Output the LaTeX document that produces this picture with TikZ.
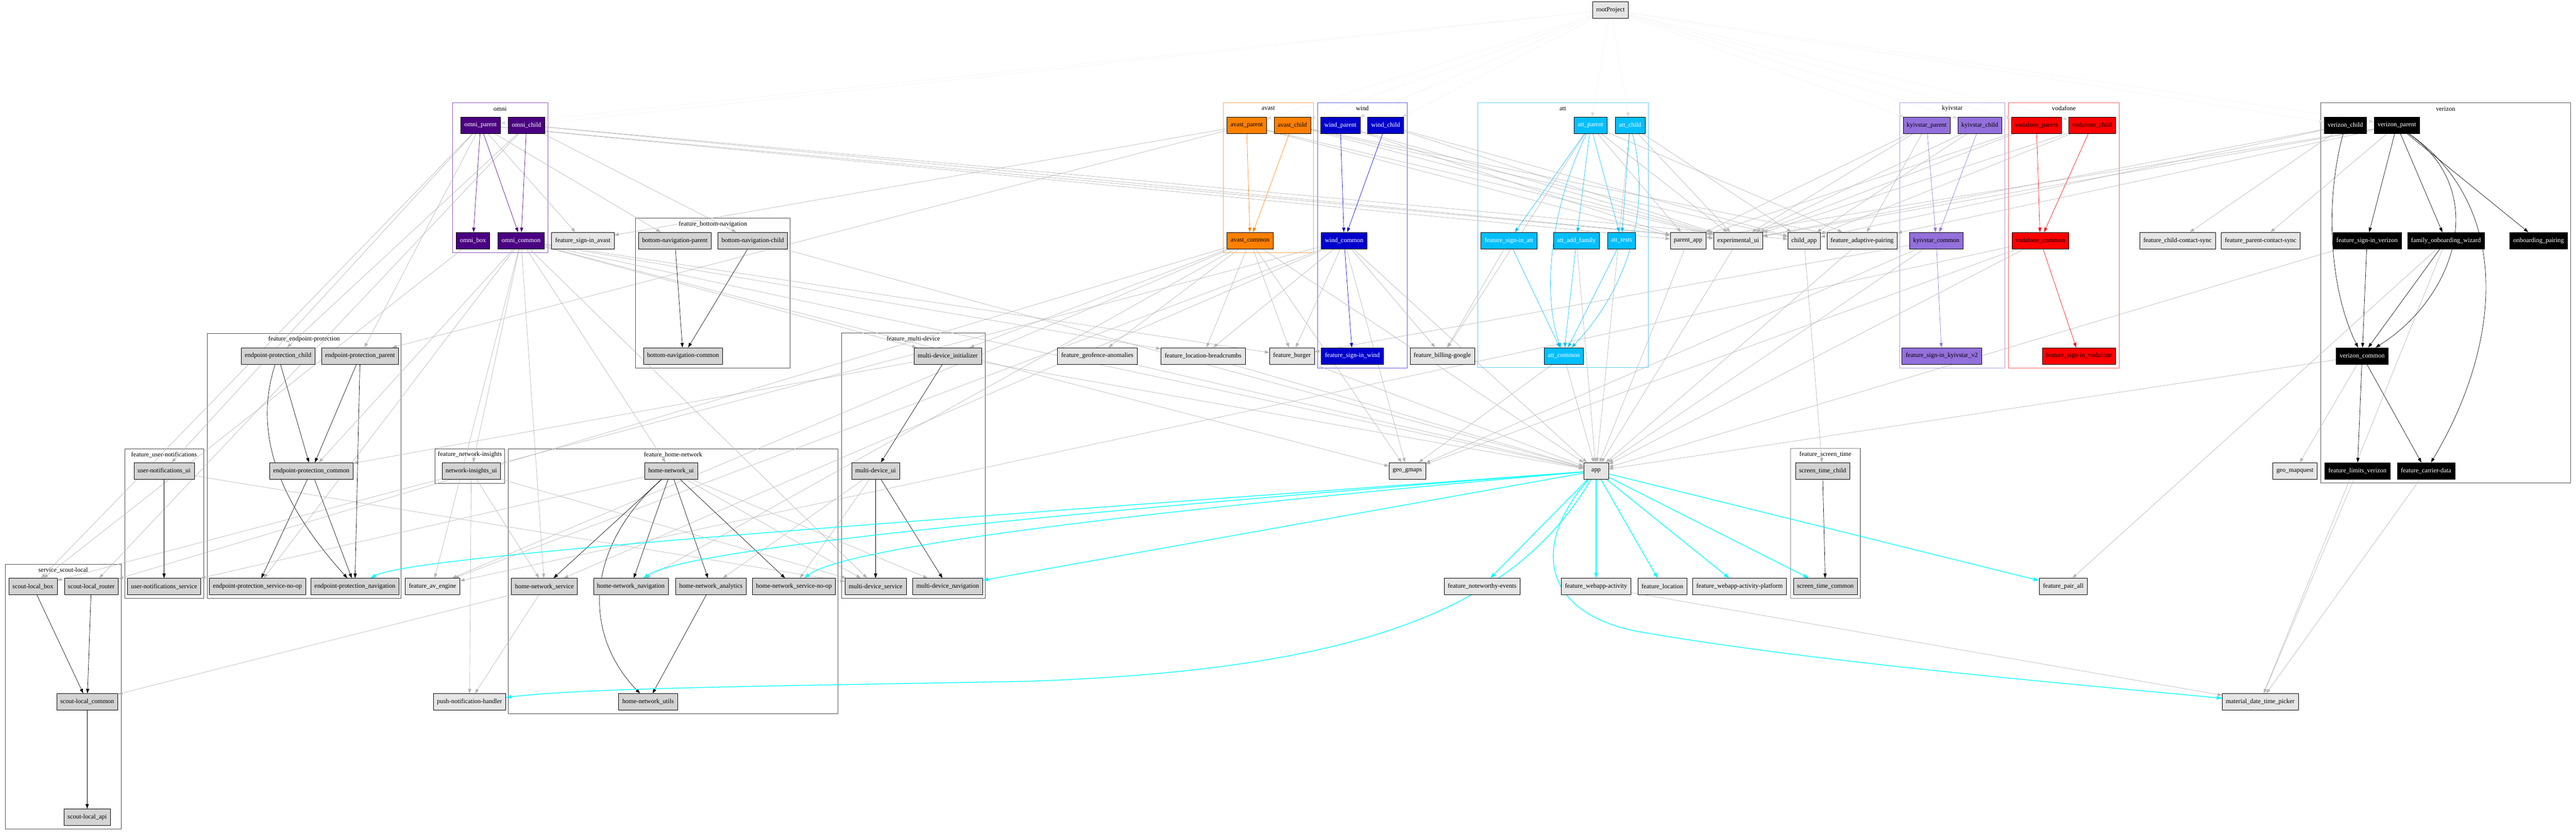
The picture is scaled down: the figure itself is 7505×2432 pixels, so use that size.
\documentclass[tikz,border=0pt]{standalone}
\usepackage{fontspec}
\setmainfont{Liberation Serif}
\usetikzlibrary{arrows.meta,backgrounds}

\definecolor{omniFill}{HTML}{4B0082}
\definecolor{omniFrame}{HTML}{8B58B9}
\definecolor{avastFill}{HTML}{FF8000}
\definecolor{avastFrame}{HTML}{FFA64D}
\definecolor{windFill}{HTML}{0000CD}
\definecolor{windFrame}{HTML}{5A5ADC}
\definecolor{attFill}{HTML}{00BFFF}
\definecolor{attFrame}{HTML}{5CCBF5}
\definecolor{kyivFill}{HTML}{9370DB}
\definecolor{kyivFrame}{HTML}{B09DE6}
\definecolor{vodaFill}{HTML}{FF0000}
\definecolor{vodaFrame}{HTML}{FF5A5A}
\definecolor{verizonFrame}{HTML}{555555}
\definecolor{featFill}{HTML}{D3D3D3}
\definecolor{loneFill}{HTML}{E5E5E5}
\definecolor{featFrame}{HTML}{4D4D4D}
\definecolor{screenFrame}{HTML}{8C8C8C}
\definecolor{depGray}{HTML}{B3B3B3}
\definecolor{rootGray}{HTML}{D9D9D9}
\definecolor{appCyan}{HTML}{00FFFF}

\begin{document}
\begin{tikzpicture}[x=0.75pt,y=0.75pt,yscale=-1,xscale=1,
    modBox/.style={draw=black, line width=0.6pt, minimum height=36pt, minimum width=54pt, inner xsep=8pt, inner ysep=0pt, font=\fontsize{14}{16}\selectfont},
    lone/.style={modBox, fill=loneFill},
    feat/.style={modBox, fill=featFill},
    omniMod/.style={modBox, fill=omniFill, text=white},
    avastMod/.style={modBox, fill=avastFill},
    windMod/.style={modBox, fill=windFill, text=white},
    attMod/.style={modBox, fill=attFill, text=white},
    kyivMod/.style={modBox, fill=kyivFill},
    vodaMod/.style={modBox, fill=vodaFill},
    verizonMod/.style={modBox, fill=black, text=white},
    clusterBox/.style={line width=1.2pt},
    clusterTitle/.style={font=\fontsize{14}{16}\selectfont, inner sep=0pt},
    depTip/.style={-{Triangle[length=10pt,width=7pt]}},
    dep/.style={draw=depGray, line width=0.75pt, depTip},
    rootDep/.style={draw=rootGray, line width=0.75pt, dotted, depTip},
    ownDep/.style={line width=0.75pt, depTip},
    appDep/.style={draw=appCyan, line width=1.5pt, -{Triangle[length=12pt,width=8pt]}}]
\useasboundingbox (0,0) rectangle (7505,2432);

% modules
\node[lone] (root) at (4692,29) {rootProject};

\node[omniMod] (oParent) at (1400,365) {omni\_parent};
\node[omniMod] (oChild) at (1534,365) {omni\_child};
\node[omniMod] (oBox) at (1378,701) {omni\_box};
\node[omniMod] (oCommon) at (1518,701) {omni\_common};
\node[lone] (signAvast) at (1698,701) {feature\_sign-in\_avast};

\node[feat] (bnParent) at (1966,701) {bottom-navigation-parent};
\node[feat] (bnChild) at (2193,701) {bottom-navigation-child};
\node[feat] (bnCommon) at (1990,1037) {bottom-navigation-common};

\node[feat] (epChild) at (810,1037) {endpoint-protection\_child};
\node[feat] (epParent) at (1049,1037) {endpoint-protection\_parent};
\node[feat] (epCommon) at (907,1372) {endpoint-protection\_common};
\node[feat] (epNoop) at (750,1709) {endpoint-protection\_service-no-op};
\node[feat] (epNav) at (1034,1709) {endpoint-protection\_navigation};

\node[feat] (unUi) at (478,1372) {user-notifications\_ui};
\node[feat] (unService) at (478,1709) {user-notifications\_service};

\node[feat] (slBox) at (96,1709) {scout-local\_box};
\node[feat] (slRouter) at (266,1709) {scout-local\_router};
\node[feat] (slCommon) at (254,2045) {scout-local\_common};
\node[feat] (slApi) at (254,2381) {scout-local\_api};

\node[lone] (avEngine) at (1260,1709) {feature\_av\_engine};
\node[feat] (niUi) at (1373,1372) {network-insights\_ui};
\node[lone] (pushHandler) at (1368,2045) {push-notification-handler};

\node[feat] (hnUi) at (1955,1372) {home-network\_ui};
\node[feat] (hnService) at (1586,1709) {home-network\_service};
\node[feat] (hnNav) at (1838,1709) {home-network\_navigation};
\node[feat] (hnAnalytics) at (2071,1709) {home-network\_analytics};
\node[feat] (hnNoop) at (2313,1709) {home-network\_service-no-op};
\node[feat] (hnUtils) at (1888,2045) {home-network\_utils};

\node[feat] (mdInit) at (2761,1037) {multi-device\_initializer};
\node[feat] (mdUi) at (2551,1372) {multi-device\_ui};
\node[feat] (mdService) at (2551,1709) {multi-device\_service};
\node[feat] (mdNav) at (2761,1709) {multi-device\_navigation};

\node[lone] (geofence) at (3197,1037) {feature\_geofence-anomalies};
\node[lone] (breadcrumbs) at (3505,1037) {feature\_location-breadcrumbs};
\node[lone] (burger) at (3764,1037) {feature\_burger};

\node[avastMod] (aParent) at (3632,365) {avast\_parent};
\node[avastMod] (aChild) at (3765,365) {avast\_child};
\node[avastMod] (aCommon) at (3642,701) {avast\_common};

\node[windMod] (wParent) at (3905,365) {wind\_parent};
\node[windMod] (wChild) at (4037,365) {wind\_child};
\node[windMod] (wCommon) at (3916,701) {wind\_common};
\node[windMod] (signWind) at (3940,1037) {feature\_sign-in\_wind};

\node[lone] (billing) at (4202,1037) {feature\_billing-google};

\node[attMod] (tParent) at (4634,365) {att\_parent};
\node[attMod] (tChild) at (4749,365) {att\_child};
\node[attMod] (signAtt) at (4396,701) {feature\_sign-in\_att};
\node[attMod] (tFamily) at (4593,701) {att\_add\_family};
\node[attMod] (tTests) at (4724,701) {att\_tests};
\node[attMod] (tCommon) at (4556,1037) {att\_common};

\node[lone] (parentApp) at (4918,701) {parent\_app};
\node[lone] (expUi) at (5064,701) {experimental\_ui};
\node[lone] (childApp) at (5256,701) {child\_app};
\node[lone] (adaptive) at (5425,701) {feature\_adaptive-pairing};

\node[kyivMod] (kParent) at (5613,365) {kyivstar\_parent};
\node[kyivMod] (kChild) at (5768,365) {kyivstar\_child};
\node[kyivMod] (kCommon) at (5641,701) {kyivstar\_common};
\node[kyivMod] (signKyiv) at (5657,1037) {feature\_sign-in\_kyivstar\_v2};

\node[vodaMod] (vParent) at (5933,365) {vodafone\_parent};
\node[vodaMod] (vChild) at (6095,365) {vodafone\_child};
\node[vodaMod] (vCommon) at (5944,701) {vodafone\_common};
\node[vodaMod] (signVoda) at (6057,1037) {feature\_sign-in\_vodafone};

\node[lone] (childSync) at (6344,701) {feature\_child-contact-sync};
\node[lone] (parentSync) at (6586,701) {feature\_parent-contact-sync};

\node[verizonMod] (zChild) at (6833,365) {verizon\_child};
\node[verizonMod] (zParent) at (6983,365) {verizon\_parent};
\node[verizonMod] (signVerizon) at (6896,701) {feature\_sign-in\_verizon};
\node[verizonMod] (wizard) at (7126,701) {family\_onboarding\_wizard};
\node[verizonMod] (pairing) at (7396,701) {onboarding\_pairing};
\node[verizonMod] (zCommon) at (6882,1037) {verizon\_common};
\node[verizonMod] (limits) at (6868,1372) {feature\_limits\_verizon};
\node[verizonMod] (carrier) at (7068,1372) {feature\_carrier-data};
\node[lone] (mapquest) at (6686,1372) {geo\_mapquest};

\node[lone] (gmaps) at (4100,1372) {geo\_gmaps};
\node[lone] (app) at (4650,1372) {app};
\node[lone] (noteworthy) at (4318,1709) {feature\_noteworthy-events};
\node[lone] (webapp) at (4650,1709) {feature\_webapp-activity};
\node[lone] (location) at (4843,1709) {feature\_location};
\node[lone] (webappPlatform) at (5068,1709) {feature\_webapp-activity-platform};
\node[feat] (stChild) at (5310,1372) {screen\_time\_child};
\node[feat] (stCommon) at (5318,1709) {screen\_time\_common};
\node[lone] (pairAll) at (6011,1709) {feature\_pair\_all};
\node[lone] (picker) at (6585,2045) {material\_date\_time\_picker};

\begin{pgfonlayer}{background}
% clusters
\draw[clusterBox, omniFrame] (1319,300) rectangle (1596,736);
\node[clusterTitle] (omniTitle) at (1457,317) {omni};
\draw[clusterBox, featFrame] (1852,636) rectangle (2302,1072);
\node[clusterTitle] (bnTitle) at (2077,653) {feature\_bottom-navigation};
\draw[clusterBox, featFrame] (604,972) rectangle (1169,1744);
\node[clusterTitle] (epTitle) at (886,989) {feature\_endpoint-protection};
\draw[clusterBox, featFrame] (364,1308) rectangle (593,1744);
\node[clusterTitle] (unTitle) at (478,1325) {feature\_user-notifications};
\draw[clusterBox, featFrame] (16,1644) rectangle (353,2416);
\node[clusterTitle] (slTitle) at (184,1661) {service\_scout-local};
\draw[clusterBox, featFrame] (1268,1308) rectangle (1470,1408);
\node[clusterTitle] (niTitle) at (1369,1325) {feature\_network-insights};
\draw[clusterBox, featFrame] (1481,1308) rectangle (2441,2080);
\node[clusterTitle] (hnTitle) at (1961,1325) {feature\_home-network};
\draw[clusterBox, featFrame] (2452,971) rectangle (2870,1744);
\node[clusterTitle] (mdTitle) at (2661,988) {feature\_multi-device};
\draw[clusterBox, avastFrame] (3564,299) rectangle (3827,736);
\node[clusterTitle] (avastTitle) at (3695,316) {avast};
\draw[clusterBox, windFrame] (3839,299) rectangle (4100,1072);
\node[clusterTitle] (windTitle) at (3969,316) {wind};
\draw[clusterBox, attFrame] (4305,300) rectangle (4802,1071);
\node[clusterTitle] (attTitle) at (4553,317) {att};
\draw[clusterBox, kyivFrame] (5535,299) rectangle (5841,1072);
\node[clusterTitle] (kyivTitle) at (5688,316) {kyivstar};
\draw[clusterBox, vodaFrame] (5852,299) rectangle (6174,1072);
\node[clusterTitle] (vodaTitle) at (6013,316) {vodafone};
\draw[clusterBox, verizonFrame] (6761,300) rectangle (7489,1407);
\node[clusterTitle] (verizonTitle) at (7125,317) {verizon};
\draw[clusterBox, screenFrame] (5216,1307) rectangle (5420,1744);
\node[clusterTitle] (stTitle) at (5318,1324) {feature\_screen\_time};

% rootProject
\draw[rootDep] (root) -- (oParent);
\draw[rootDep] (root) -- (oChild);
\draw[rootDep] (root) -- (aParent);
\draw[rootDep] (root) -- (aChild);
\draw[rootDep] (root) -- (wParent);
\draw[rootDep] (root) -- (wChild);
\draw[rootDep] (root) -- (tParent);
\draw[rootDep] (root) -- (tChild);
\draw[rootDep] (root) -- (kParent);
\draw[rootDep] (root) -- (kChild);
\draw[rootDep] (root) -- (vParent);
\draw[rootDep] (root) -- (vChild);
\draw[rootDep] (root) -- (zChild);
\draw[rootDep] (root) -- (zParent);

% gray dependencies
\draw[dep] (oParent) -- (signAvast);
\draw[dep] (oParent) -- (bnParent);
\draw[dep] (oParent) -- (parentApp);
\draw[dep] (oParent) -- (expUi);
\draw[dep] (oParent) -- (epParent);
\draw[dep] (oParent) -- (unUi);
\draw[dep] (oParent) -- (slBox);
\draw[dep] (oChild) -- (bnChild);
\draw[dep] (oChild) -- (childApp);
\draw[dep] (oChild) -- (expUi);
\draw[dep] (oChild) -- (epChild);
\draw[dep] (oChild) -- (slRouter);
\draw[dep] (oBox) -- (slBox);
\draw[dep] (oCommon) -- (app);
\draw[dep] (oCommon) -- (gmaps);
\draw[dep] (oCommon) -- (mdInit);
\draw[dep] (oCommon) -- (niUi);
\draw[dep] (oCommon) -- (hnUi);
\draw[dep] (oCommon) -- (avEngine);
\draw[dep] (oCommon) -- (epCommon);
\draw[dep] (oCommon) -- (epNoop);
\draw[dep] (oCommon) -- (hnService);
\draw[dep] (oCommon) -- (mdService);
\draw[dep] (oCommon) -- (breadcrumbs);
\draw[dep] (oCommon) -- (burger);
\draw[dep] (aParent) -- (signAvast);
\draw[dep] (aParent) -- (parentApp);
\draw[dep] (aParent) -- (expUi);
\draw[dep] (aParent) -- (epParent);
\draw[dep] (aChild) -- (childApp);
\draw[dep] (aChild) -- (expUi);
\draw[dep] (aChild) -- (adaptive);
\draw[dep] (aCommon) -- (app);
\draw[dep] (aCommon) -- (gmaps);
\draw[dep] (aCommon) -- (geofence);
\draw[dep] (aCommon) -- (breadcrumbs);
\draw[dep] (aCommon) -- (burger);
\draw[dep] (aCommon) -- (mdInit);
\draw[dep] (aCommon) -- (avEngine);
\draw[dep] (aCommon) -- (slRouter);
\draw[dep] (aCommon) -- (hnNav);
\draw[dep] (wParent) -- (parentApp);
\draw[dep] (wParent) -- (expUi);
\draw[dep] (wChild) -- (childApp);
\draw[dep] (wChild) -- (expUi);
\draw[dep] (wCommon) -- (app);
\draw[dep] (wCommon) -- (gmaps);
\draw[dep] (wCommon) -- (breadcrumbs);
\draw[dep] (wCommon) -- (burger);
\draw[dep] (wCommon) -- (billing);
\draw[dep] (wCommon) -- (avEngine);
\draw[dep] (wCommon) -- (slBox);
\draw[dep] (wCommon) -- (hnService);
\draw[dep] (tParent) -- (billing);
\draw[dep] (tParent) -- (parentApp);
\draw[dep] (tParent) -- (expUi);
\draw[dep] (tParent) -- (adaptive);
\draw[dep] (tChild) -- (childApp);
\draw[dep] (tChild) -- (expUi);
\draw[dep] (tChild) -- (app);
\draw[dep] (signAtt) -- (billing);
\draw[dep] (tFamily) -- (app);
\draw[dep] (tCommon) -- (app);
\draw[dep] (tCommon) -- (gmaps);
\draw[dep] (kParent) -- (parentApp);
\draw[dep] (kParent) -- (expUi);
\draw[dep] (kParent) -- (adaptive);
\draw[dep] (kChild) -- (childApp);
\draw[dep] (kChild) -- (expUi);
\draw[dep] (kCommon) -- (app);
\draw[dep] (kCommon) -- (gmaps);
\draw[dep] (kCommon) -- (burger);
\draw[dep] (vParent) -- (parentApp);
\draw[dep] (vParent) -- (expUi);
\draw[dep] (vChild) -- (childApp);
\draw[dep] (vChild) -- (expUi);
\draw[dep] (vCommon) -- (app);
\draw[dep] (vCommon) -- (gmaps);
\draw[dep] (vCommon) -- (avEngine);
\draw[dep] (zChild) -- (childSync);
\draw[dep] (zChild) -- (childApp);
\draw[dep] (zChild) -- (expUi);
\draw[dep] (zParent) -- (parentSync);
\draw[dep] (zParent) -- (parentApp);
\draw[dep] (zParent) -- (expUi);
\draw[dep] (zParent) -- (adaptive);
\draw[dep] (signVerizon) -- (app);
\draw[dep] (wizard) -- (pairAll);
\draw[dep] (wizard) -- (picker);
\draw[dep] (zCommon) -- (app);
\draw[dep] (zCommon) -- (mapquest);
\draw[dep] (limits) -- (picker);
\draw[dep] (carrier) -- (picker);
\draw[dep] (parentApp) -- (app);
\draw[dep] (expUi) -- (app);
\draw[dep] (childApp) -- (stChild);
\draw[dep] (adaptive) -- (app);
\draw[dep] (geofence) -- (app);
\draw[dep] (breadcrumbs) -- (app);
\draw[dep] (burger) -- (app);
\draw[dep] (mdInit) -- (app);
\draw[dep] (mdInit) -- (epCommon);
\draw[dep] (bnChild) -- (app);
\draw[dep] (niUi) -- (pushHandler);
\draw[dep] (niUi) -- (hnService);
\draw[dep] (niUi) -- (mdService);
\draw[dep] (hnService) -- (pushHandler);
\draw[dep] (hnService) -- (slCommon);
\draw[dep] (hnUi) -- (unService);
\draw[dep] (hnUi) -- (mdService);
\draw[dep] (hnUi) -- (mdNav);
\draw[dep] (mdUi) -- (hnAnalytics);
\draw[dep] (mdUi) -- (hnNoop);
\draw[dep] (unUi) -- (mdService);
\draw[dep] (webapp) -- (picker);

% own cluster dependencies
\draw[ownDep, omniFill] (oParent) -- (oBox);
\draw[ownDep, omniFill] (oParent) -- (oCommon);
\draw[ownDep, omniFill] (oChild) -- (oCommon);
\draw[ownDep, avastFill] (aParent) -- (aCommon);
\draw[ownDep, avastFill] (aChild) -- (aCommon);
\draw[ownDep, windFill] (wParent) -- (wCommon);
\draw[ownDep, windFill] (wChild) -- (wCommon);
\draw[ownDep, windFill] (wCommon) -- (signWind);
\draw[ownDep, attFill] (tParent) -- (signAtt);
\draw[ownDep, attFill] (tParent) -- (tFamily);
\draw[ownDep, attFill] (tParent) -- (tTests);
\draw[ownDep, attFill] (tChild) -- (tTests);
\draw[ownDep, attFill] (tParent) .. controls (4520,600) and (4490,850) .. (tCommon);
\draw[ownDep, attFill] (tChild) .. controls (4800,550) and (4780,800) .. (tCommon);
\draw[ownDep, attFill] (signAtt) -- (tCommon);
\draw[ownDep, attFill] (tFamily) -- (tCommon);
\draw[ownDep, attFill] (tTests) -- (tCommon);
\draw[ownDep, kyivFill] (kParent) -- (kCommon);
\draw[ownDep, kyivFill] (kChild) -- (kCommon);
\draw[ownDep, kyivFill] (kCommon) -- (signKyiv);
\draw[ownDep, vodaFill] (vParent) -- (vCommon);
\draw[ownDep, vodaFill] (vChild) -- (vCommon);
\draw[ownDep, vodaFill] (vCommon) -- (signVoda);
\draw[ownDep] (zChild) .. controls (6770,600) and (6790,850) .. (zCommon);
\draw[ownDep] (zParent) -- (signVerizon);
\draw[ownDep] (zParent) -- (wizard);
\draw[ownDep] (zParent) -- (pairing);
\draw[ownDep] (zParent) .. controls (7260,560) and (7150,870) .. (zCommon);
\draw[ownDep] (zParent) .. controls (7320,600) and (7290,1000) .. (carrier);
\draw[ownDep] (signVerizon) -- (zCommon);
\draw[ownDep] (wizard) -- (zCommon);
\draw[ownDep] (zCommon) -- (limits);
\draw[ownDep] (zCommon) -- (carrier);
\draw[ownDep] (bnParent) -- (bnCommon);
\draw[ownDep] (bnChild) -- (bnCommon);
\draw[ownDep] (epChild) -- (epCommon);
\draw[ownDep] (epParent) -- (epCommon);
\draw[ownDep] (epParent) -- (epNav);
\draw[ownDep] (epChild) .. controls (740,1250) and (800,1450) .. (epNav);
\draw[ownDep] (epCommon) -- (epNoop);
\draw[ownDep] (epCommon) -- (epNav);
\draw[ownDep] (unUi) -- (unService);
\draw[ownDep] (slBox) -- (slCommon);
\draw[ownDep] (slRouter) -- (slCommon);
\draw[ownDep] (slCommon) -- (slApi);
\draw[ownDep] (hnUi) -- (hnService);
\draw[ownDep] (hnUi) -- (hnNav);
\draw[ownDep] (hnUi) -- (hnAnalytics);
\draw[ownDep] (hnUi) -- (hnNoop);
\draw[ownDep] (hnUi) .. controls (1700,1600) and (1700,1850) .. (hnUtils);
\draw[ownDep] (hnAnalytics) -- (hnUtils);
\draw[ownDep] (mdInit) -- (mdUi);
\draw[ownDep] (mdUi) -- (mdService);
\draw[ownDep] (mdUi) -- (mdNav);
\draw[ownDep] (stChild) -- (stCommon);

% app
\draw[appDep] (app) .. controls (2500,1530) and (1200,1620) .. (epNav);
\draw[appDep] (app) .. controls (3000,1500) and (2000,1600) .. (hnNav);
\draw[appDep] (app) .. controls (3200,1500) and (2450,1600) .. (hnNoop);
\draw[appDep] (app) -- (mdNav);
\draw[appDep] (app) .. controls (4420,1760) and (4000,1950) .. (3000,1985) .. controls (2200,2000) and (1700,2005) .. (pushHandler);
\draw[appDep] (app) -- (noteworthy);
\draw[appDep] (app) -- (webapp);
\draw[appDep] (app) -- (location);
\draw[appDep] (app) -- (webappPlatform);
\draw[appDep] (app) -- (stCommon);
\draw[appDep] (app) -- (pairAll);
\draw[appDep] (app) .. controls (4450,1600) and (4500,1800) .. (4800,1845) .. controls (5300,1930) and (6000,1990) .. (picker);
\end{pgfonlayer}
\end{tikzpicture}
\end{document}
